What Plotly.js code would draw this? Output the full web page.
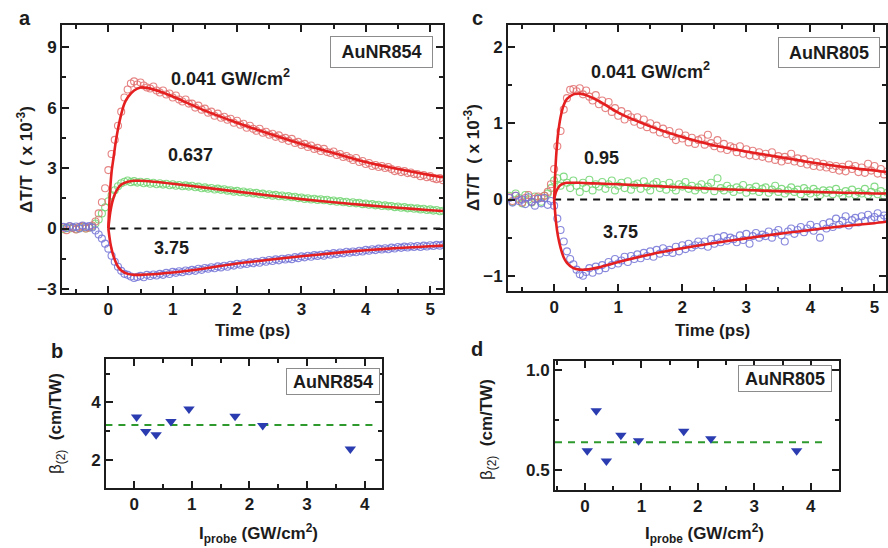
<!DOCTYPE html>
<html><head><meta charset="utf-8">
<script src="https://cdn.plot.ly/plotly-3.0.1.min.js"></script>
<style>html,body{margin:0;padding:0;background:#fff}#plot{width:888px;height:548px}</style>
</head><body><div id="plot"></div>
<script>
// ---- time axis of the pump-probe scans (ps) ----
const t = [-0.70,-0.65,-0.60,-0.55,-0.50,-0.45,-0.40,-0.35,-0.30,-0.25,
 -0.20,-0.15,-0.10,-0.05,0.00,0.05,0.10,0.15,0.20,0.25,
 0.30,0.35,0.40,0.45,0.50,0.55,0.60,0.65,0.70,0.75,
 0.80,0.85,0.90,0.95,1.00,1.05,1.10,1.15,1.20,1.25,
 1.30,1.35,1.40,1.45,1.50,1.55,1.60,1.65,1.70,1.75,
 1.80,1.85,1.90,1.95,2.00,2.05,2.10,2.15,2.20,2.25,
 2.30,2.35,2.40,2.45,2.50,2.55,2.60,2.65,2.70,2.75,
 2.80,2.85,2.90,2.95,3.00,3.05,3.10,3.15,3.20,3.25,
 3.30,3.35,3.40,3.45,3.50,3.55,3.60,3.65,3.70,3.75,
 3.80,3.85,3.90,3.95,4.00,4.05,4.10,4.15,4.20,4.25,
 4.30,4.35,4.40,4.45,4.50,4.55,4.60,4.65,4.70,4.75,
 4.80,4.85,4.90,4.95,5.00,5.05,5.10,5.15,5.20];

// ---- panel a: AuNR854 (dT/T x 1e-3) ----
const aRed = [0.05,-0.08,0.10,0.02,-0.05,0.08,0.12,0.00,0.05,0.15,
 0.35,0.75,1.30,2.00,2.90,3.70,4.40,5.10,5.80,6.50,
 6.90,7.20,7.30,7.15,7.25,7.10,7.00,6.95,7.05,6.85,
 6.75,6.85,6.65,6.70,6.50,6.60,6.40,6.30,6.40,6.20,
 6.20,6.00,6.10,5.90,5.95,5.75,5.80,5.60,5.70,5.50,
 5.55,5.40,5.45,5.25,5.35,5.15,5.20,5.00,5.10,4.95,
 4.85,4.95,4.75,4.80,4.65,4.70,4.55,4.62,4.45,4.50,
 4.35,4.45,4.25,4.30,4.15,4.20,4.05,4.12,3.95,4.00,
 3.85,3.95,3.80,3.75,3.82,3.65,3.70,3.55,3.60,3.50,
 3.40,3.50,3.30,3.35,3.20,3.25,3.10,3.15,3.05,3.10,
 3.00,3.05,2.95,2.85,2.90,2.80,2.85,2.75,2.78,2.70,
 2.70,2.60,2.65,2.55,2.60,2.50,2.45,2.50,2.40];
const aGreen = [-0.03,0.05,0.00,0.06,-0.04,0.02,0.08,0.00,0.04,0.10,
 0.25,0.45,0.75,1.05,1.35,1.65,1.90,2.10,2.25,2.32,
 2.38,2.30,2.35,2.28,2.32,2.25,2.30,2.22,2.27,2.20,
 2.25,2.18,2.22,2.15,2.20,2.12,2.16,2.10,2.14,2.08,
 2.12,2.05,2.08,2.00,2.04,1.97,2.01,1.94,1.98,1.92,
 1.95,1.88,1.90,1.83,1.87,1.80,1.84,1.77,1.80,1.74,
 1.77,1.70,1.73,1.66,1.70,1.63,1.67,1.60,1.64,1.58,
 1.61,1.55,1.58,1.51,1.54,1.47,1.50,1.44,1.48,1.42,
 1.45,1.40,1.43,1.36,1.39,1.33,1.36,1.30,1.33,1.27,
 1.30,1.25,1.28,1.21,1.24,1.18,1.21,1.15,1.18,1.12,
 1.15,1.10,1.12,1.06,1.09,1.03,1.06,1.00,1.03,0.98,
 1.00,0.95,0.98,0.92,0.95,0.89,0.92,0.86,0.88];
const aBlue = [0.08,0.02,0.12,0.05,0.10,0.00,0.15,0.08,0.12,0.05,
 -0.10,-0.30,-0.50,-0.75,-1.00,-1.35,-1.65,-1.90,-2.10,-2.25,
 -2.30,-2.38,-2.45,-2.40,-2.35,-2.42,-2.30,-2.36,-2.28,-2.33,
 -2.25,-2.30,-2.20,-2.26,-2.15,-2.20,-2.12,-2.17,-2.08,-2.12,
 -2.05,-2.10,-2.00,-2.05,-1.96,-2.00,-1.92,-1.97,-1.88,-1.93,
 -1.85,-1.90,-1.80,-1.84,-1.75,-1.80,-1.72,-1.76,-1.68,-1.72,
 -1.65,-1.70,-1.60,-1.65,-1.56,-1.61,-1.53,-1.58,-1.50,-1.54,
 -1.47,-1.52,-1.42,-1.47,-1.38,-1.43,-1.35,-1.40,-1.32,-1.36,
 -1.30,-1.35,-1.26,-1.30,-1.22,-1.27,-1.19,-1.23,-1.15,-1.20,
 -1.14,-1.18,-1.10,-1.14,-1.06,-1.10,-1.03,-1.07,-1.00,-1.04,
 -0.98,-1.03,-0.95,-0.99,-0.92,-0.96,-0.90,-0.94,-0.88,-0.92,
 -0.87,-0.92,-0.85,-0.89,-0.83,-0.87,-0.81,-0.85,-0.80];
// fits, panel a
const aFitRedT = [0,0.02,0.05,0.08,0.12,0.18,0.25,0.30,0.40,0.50,0.60,0.80,1.0,1.5,2.0,2.5,3.0,3.5,4.0,4.5,5.0,5.2];
const aFitRed  = [0,1.5,2.8,3.5,4.4,5.4,6.2,6.5,6.85,7.0,6.98,6.8,6.55,5.85,5.25,4.7,4.2,3.75,3.3,2.95,2.65,2.55];
const fitT = [0,0.03,0.06,0.10,0.15,0.20,0.30,0.40,0.50,0.70,1.0,1.5,2.0,2.5,3.0,3.5,4.0,4.5,5.0,5.2];
const aFitGreen = [0,0.8,1.3,1.7,2.0,2.18,2.32,2.37,2.37,2.32,2.22,2.03,1.83,1.64,1.46,1.30,1.16,1.03,0.91,0.87];
const aFitBlue  = [0,-0.7,-1.15,-1.55,-1.9,-2.08,-2.25,-2.3,-2.3,-2.27,-2.18,-1.98,-1.74,-1.55,-1.38,-1.22,-1.08,-0.97,-0.88,-0.85];

// ---- panel c: AuNR805 ----
const cRed = [0.03,-0.02,0.05,0.00,-0.04,0.02,0.06,-0.03,0.01,0.04,
 0.02,0.05,0.10,0.20,0.40,0.70,0.90,1.18,1.33,1.44,
 1.45,1.42,1.46,1.38,1.43,1.35,1.30,1.37,1.25,1.30,
 1.20,1.28,1.15,1.20,1.10,1.16,1.05,1.12,1.08,1.02,
 1.08,0.98,1.05,0.95,1.00,0.92,0.97,0.88,0.93,0.86,
 0.90,0.83,0.78,0.88,0.80,0.84,0.75,0.81,0.73,0.78,
 0.80,0.72,0.85,0.74,0.70,0.78,0.67,0.73,0.65,0.70,
 0.68,0.62,0.70,0.60,0.66,0.58,0.64,0.57,0.62,0.56,
 0.60,0.54,0.62,0.52,0.57,0.50,0.56,0.52,0.60,0.50,
 0.54,0.48,0.53,0.46,0.50,0.44,0.49,0.43,0.47,0.42,
 0.45,0.40,0.44,0.38,0.43,0.37,0.46,0.40,0.44,0.36,
 0.42,0.35,0.47,0.38,0.44,0.34,0.40,0.33,0.37];
const cGreen = [0.05,-0.03,0.08,0.02,-0.05,0.06,0.00,-0.04,0.04,0.02,
 -0.03,0.05,0.08,0.15,0.25,0.28,0.18,0.30,0.22,0.15,
 0.25,0.18,0.10,0.22,0.15,0.26,0.12,0.20,0.17,0.23,
 0.14,0.20,0.25,0.12,0.18,0.22,0.15,0.24,0.13,0.19,
 0.21,0.14,0.24,0.17,0.12,0.20,0.23,0.15,0.19,0.13,
 0.22,0.16,0.12,0.20,0.17,0.23,0.14,0.18,0.12,0.16,
 0.20,0.13,0.17,0.22,0.11,0.28,0.15,0.12,0.18,0.14,
 0.10,0.16,0.13,0.19,0.09,0.15,0.12,0.17,0.10,0.14,
 0.16,0.09,0.13,0.18,0.10,0.14,0.08,0.12,0.16,0.10,
 0.13,0.07,0.15,0.11,0.08,0.14,0.10,0.06,0.12,0.09,
 0.12,0.07,0.14,0.09,0.05,0.11,0.08,0.13,0.06,0.10,
 0.08,0.14,0.06,0.10,0.17,0.07,0.11,0.05,0.09];
const cBlue = [0.02,-0.04,0.05,-0.02,0.00,-0.06,0.03,-0.03,-0.08,0.01,
 -0.05,0.02,-0.07,-0.02,-0.08,-0.25,-0.40,-0.55,-0.68,-0.78,
 -0.85,-0.92,-0.98,-1.00,-0.95,-0.90,-0.96,-0.88,-0.93,-0.86,
 -0.90,-0.82,-0.86,-0.78,-0.84,-0.80,-0.75,-0.82,-0.74,-0.78,
 -0.72,-0.77,-0.70,-0.74,-0.68,-0.75,-0.66,-0.71,-0.64,-0.69,
 -0.66,-0.70,-0.62,-0.68,-0.60,-0.65,-0.58,-0.63,-0.60,-0.55,
 -0.60,-0.55,-0.62,-0.52,-0.58,-0.50,-0.56,-0.48,-0.54,-0.50,
 -0.52,-0.56,-0.47,-0.53,-0.45,-0.58,-0.48,-0.44,-0.50,-0.46,
 -0.48,-0.42,-0.50,-0.44,-0.40,-0.47,-0.55,-0.42,-0.38,-0.45,
 -0.40,-0.36,-0.43,-0.38,-0.33,-0.41,-0.36,-0.50,-0.32,-0.38,
 -0.30,-0.36,-0.25,-0.33,-0.28,-0.22,-0.34,-0.27,-0.24,-0.30,
 -0.22,-0.28,-0.20,-0.26,-0.23,-0.18,-0.25,-0.21,-0.24];
const cFitRed   = [0,0.55,0.85,1.08,1.24,1.32,1.38,1.39,1.37,1.29,1.14,0.96,0.82,0.71,0.63,0.56,0.49,0.43,0.38,0.36];
const cFitGreen = [0,0.10,0.15,0.19,0.21,0.22,0.22,0.22,0.215,0.21,0.20,0.18,0.16,0.14,0.125,0.11,0.10,0.09,0.08,0.08];
const cFitBlue  = [0,-0.30,-0.48,-0.63,-0.76,-0.83,-0.90,-0.92,-0.92,-0.89,-0.82,-0.72,-0.64,-0.57,-0.51,-0.45,-0.40,-0.35,-0.31,-0.29];

const zeroT = [0, 5.2];
const zeroV = [0, 0];

// ---- panels b, d: beta(2) vs probe intensity ----
const iProbe = [0.041, 0.2, 0.38, 0.637, 0.95, 1.75, 2.23, 3.75];
const beta854 = [3.49, 2.98, 2.87, 3.33, 3.77, 3.51, 3.19, 2.37];
const beta805 = [0.597, 0.797, 0.545, 0.675, 0.647, 0.695, 0.657, 0.597];
const mean854X = [-0.5, 4.2], mean854 = [3.21, 3.21];
const mean805X = [-0.53, 4.3], mean805 = [0.64, 0.64];

// ---- styling ----
const FONT = 'Liberation Sans, Arial, sans-serif';
const INK = '#1c1c1c';
const cRedM = 'rgba(226,110,110,0.85)', cGreenM = 'rgba(120,215,120,0.9)', cBlueM = 'rgba(115,115,215,0.85)';
const fitColor = '#e51f1f';

function circles(x, y, col, xa, ya) {
  return {x, y, xaxis: xa, yaxis: ya, type: 'scatter', mode: 'markers',
    marker: {symbol: 'circle-open', size: 7, color: col, line: {width: 1.1, color: col}}, hoverinfo: 'skip'};
}
function fit(x, y, xa, ya) {
  return {x, y, xaxis: xa, yaxis: ya, type: 'scatter', mode: 'lines',
    line: {color: fitColor, width: 2.6, shape: 'spline', smoothing: 0.8}, hoverinfo: 'skip'};
}
function dash(x, y, col, xa, ya) {
  return {x, y, xaxis: xa, yaxis: ya, type: 'scatter', mode: 'lines',
    line: {color: col, width: 2, dash: '7px,6px'}, hoverinfo: 'skip'};
}
function tri(x, y, xa, ya) {
  return {x, y, xaxis: xa, yaxis: ya, type: 'scatter', mode: 'markers',
    marker: {symbol: 'triangle-down', size: 10, color: '#2a3cb0'}, hoverinfo: 'skip'};
}

const data = [
  circles(t, aGreen, cGreenM, 'x', 'y'),
  circles(t, aRed, cRedM, 'x', 'y'),
  circles(t, aBlue, cBlueM, 'x', 'y'),
  dash(zeroT, zeroV, '#111', 'x', 'y'),
  fit(aFitRedT, aFitRed, 'x', 'y'),
  fit(fitT, aFitGreen, 'x', 'y'),
  fit(fitT, aFitBlue, 'x', 'y'),
  circles(t, cGreen, cGreenM, 'x2', 'y2'),
  circles(t, cRed, cRedM, 'x2', 'y2'),
  circles(t, cBlue, cBlueM, 'x2', 'y2'),
  dash(zeroT, zeroV, '#111', 'x2', 'y2'),
  fit(fitT, cFitRed, 'x2', 'y2'),
  fit(fitT, cFitGreen, 'x2', 'y2'),
  fit(fitT, cFitBlue, 'x2', 'y2'),
  dash(mean854X, mean854, '#2e9a2e', 'x3', 'y3'),
  tri(iProbe, beta854, 'x3', 'y3'),
  dash(mean805X, mean805, '#2e9a2e', 'x4', 'y4'),
  tri(iProbe, beta805, 'x4', 'y4')
];

const W = 888, H = 548;
const px = v => v / W, py = v => 1 - v / H;

function ax(domain, range, dtick, minor, anchor, extra) {
  return Object.assign({
    domain, range, dtick, tick0: 0, anchor,
    showgrid: false, zeroline: false, showline: true, mirror: 'ticks',
    linecolor: INK, linewidth: 2, ticks: 'inside', ticklen: 7, tickwidth: 2, tickcolor: INK,
    minor: {ticks: 'inside', dtick: minor, tick0: 0, ticklen: 4, tickwidth: 2, tickcolor: INK, showgrid: false},
    tickfont: {family: FONT, size: 17, color: INK, weight: 'bold'}, fixedrange: true
  }, extra || {});
}

const layout = {
  width: W, height: H, margin: {l: 0, r: 0, t: 0, b: 0},
  paper_bgcolor: '#fff', plot_bgcolor: '#fff', showlegend: false,
  xaxis:  ax([px(62), px(443)], [-0.72, 5.2], 1, 0.5, 'y'),
  yaxis:  ax([py(293), py(25)], [-3.2, 10.1], 3, 1.5, 'x'),
  xaxis2: ax([px(508), px(886)], [-0.72, 5.18], 1, 0.5, 'y2'),
  yaxis2: ax([py(291), py(25)], [-1.2, 2.29], 1, 0.5, 'x2'),
  xaxis3: ax([px(106), px(382)], [-0.49, 4.3], 1, 0.5, 'y3'),
  yaxis3: ax([py(488), py(359)], [1.01, 5.51], 2, 1, 'x3'),
  xaxis4: ax([px(555), px(839)], [-0.53, 4.5], 1, 0.5, 'y4'),
  yaxis4: ax([py(490), py(361)], [0.4, 1.047], 0.5, 0.25, 'x4', {tickformat: '.1f'}),
  annotations: []
};

function note(text, x, y, size, opts) {
  layout.annotations.push(Object.assign({
    text, xref: 'paper', yref: 'paper', x: px(x), y: py(y), xanchor: 'center', yanchor: 'middle',
    showarrow: false, font: {family: FONT, size: size, color: INK, weight: 'bold'}
  }, opts || {}));
}
const betaTitle = '<span style="font-weight:normal">β<sub>(2)</sub></span>  (cm/TW)';
// panel letters
note('a', 25, 18, 20); note('c', 477, 18, 20); note('b', 57, 351, 20); note('d', 477, 349, 20);
// axis titles
note('ΔT/T  ( x 10<sup>-3</sup>)', 25, 160, 17, {textangle: -90});
note('ΔT/T  ( x 10<sup>-3</sup>)', 472, 158, 17, {textangle: -90});
note('Time (ps)', 253, 330, 17);
note('Time (ps)', 712, 330, 17);
note(betaTitle, 57, 424, 17, {textangle: -90});
note(betaTitle, 488, 430, 17, {textangle: -90});
note('I<sub>probe</sub> (GW/cm<sup>2</sup>)', 258, 533, 17);
note('I<sub>probe</sub> (GW/cm<sup>2</sup>)', 704, 533, 17);
// curve labels
note('0.041 GW/cm<sup>2</sup>', 230, 77, 18);
note('0.637', 190, 155, 18);
note('3.75', 171, 248, 18);
note('0.041 GW/cm<sup>2</sup>', 650, 70, 18);
note('0.95', 601, 158, 18);
note('3.75', 620, 232, 18);
// sample boxes
const box = {bordercolor: '#8c8c8c', borderwidth: 1, bgcolor: '#fff'};
note('AuNR854', 381.5, 52, 18, Object.assign({width: 93, height: 22, borderpad: 4}, box));
note('AuNR805', 829, 52.5, 18, Object.assign({width: 92, height: 21, borderpad: 4}, box));
note('AuNR854', 332.5, 381.5, 18, Object.assign({width: 86, height: 19, borderpad: 3}, box));
note('AuNR805', 784.5, 378.5, 18, Object.assign({width: 86, height: 19, borderpad: 3}, box));

Plotly.newPlot('plot', data, layout, {staticPlot: true, displayModeBar: false});
</script>
</body></html>
